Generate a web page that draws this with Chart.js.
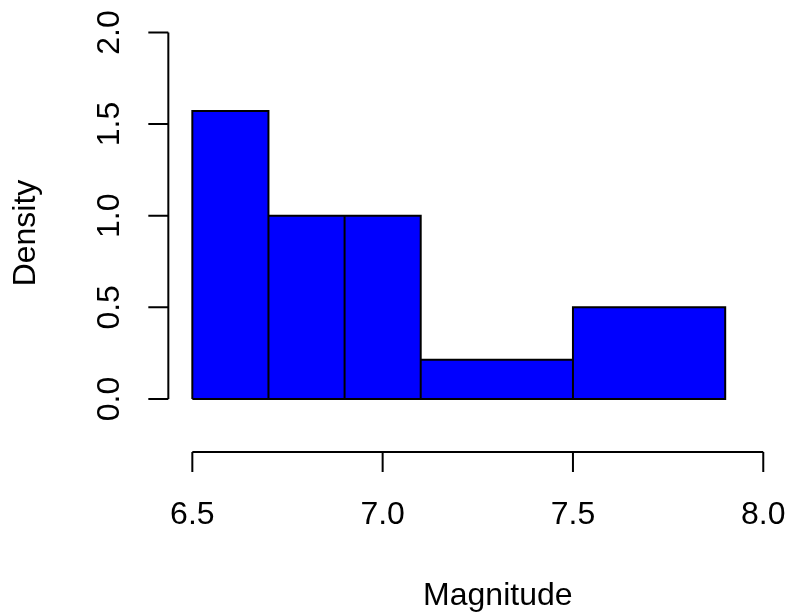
<!DOCTYPE html>
<html>
<head>
<meta charset="utf-8">
<title>Magnitude histogram</title>
<script src="https://cdn.jsdelivr.net/npm/chart.js"></script>
<style>
  html, body { margin: 0; padding: 0; background: #fff; }
  canvas { display: block; }
</style>
</head>
<body>
<canvas id="histChart" width="790" height="616"></canvas>
<script>
// bin edges and densities
const binEdges = [6.5, 6.7, 6.9, 7.1, 7.5, 7.9];
const densities = [1.571, 1.0, 1.0, 0.214, 0.5];
const xTicks = [6.5, 7.0, 7.5, 8.0];
const yTicks = [0, 0.5, 1.0, 1.5, 2.0];
const xTitle = 'Magnitude';
const yTitle = 'Density';

const FONT = '32px "Liberation Sans", Arial, sans-serif';

// step outline of the bars, x never goes backwards (needed by the filler)
function histSteps() {
    const pts = [{ x: binEdges[0], y: 0 }];
    densities.forEach((d, i) => {
        pts.push({ x: binEdges[i], y: d });
        pts.push({ x: binEdges[i + 1], y: d });
        pts.push({ x: binEdges[i + 1], y: 0 });
    });
    return pts;
}

// same outline plus the base line back to the start, for the black borders
function histBorders() {
    const pts = histSteps();
    pts.push({ x: binEdges[0], y: 0 });
    return pts;
}

// R style axes, detached from the bars
const baseAxes = {
    id: 'baseAxes',
    afterDraw(chart) {
        const { ctx, scales: { x, y } } = chart;
        const axisX = x.getPixelForValue(xTicks[0]) - 24;
        const axisY = y.getPixelForValue(0) + 53;
        const tick = 20;

        ctx.save();
        ctx.strokeStyle = '#000';
        ctx.fillStyle = '#000';
        ctx.lineWidth = 2;
        ctx.lineCap = 'butt';
        ctx.font = FONT;

        // y axis
        ctx.beginPath();
        ctx.moveTo(axisX, y.getPixelForValue(yTicks[0]));
        ctx.lineTo(axisX, y.getPixelForValue(yTicks[yTicks.length - 1]));
        yTicks.forEach(v => {
            const py = y.getPixelForValue(v);
            ctx.moveTo(axisX, py);
            ctx.lineTo(axisX - tick, py);
        });
        ctx.stroke();

        ctx.textAlign = 'center';
        ctx.textBaseline = 'alphabetic';
        yTicks.forEach(v => {
            const py = y.getPixelForValue(v);
            ctx.save();
            ctx.translate(119, py);
            ctx.rotate(-Math.PI / 2);
            ctx.fillText(v.toFixed(1), 0, 0);
            ctx.restore();
        });

        // x axis
        ctx.beginPath();
        ctx.moveTo(x.getPixelForValue(xTicks[0]), axisY);
        ctx.lineTo(x.getPixelForValue(xTicks[xTicks.length - 1]), axisY);
        xTicks.forEach(v => {
            const px = x.getPixelForValue(v);
            ctx.moveTo(px, axisY);
            ctx.lineTo(px, axisY + tick);
        });
        ctx.stroke();

        xTicks.forEach(v => {
            ctx.fillText(v.toFixed(1), x.getPixelForValue(v), 524);
        });

        // titles
        const midX = (x.getPixelForValue(xTicks[0]) + x.getPixelForValue(xTicks[xTicks.length - 1])) / 2;
        ctx.fillText(xTitle, midX + 20, 605);

        ctx.save();
        ctx.translate(35, 233);
        ctx.rotate(-Math.PI / 2);
        ctx.fillText(yTitle, 0, 0);
        ctx.restore();

        ctx.restore();
    }
};

new Chart(document.getElementById('histChart'), {
    type: 'line',
    data: {
        datasets: [
            {
                data: histSteps(),
                fill: 'origin',
                backgroundColor: '#0000ff',
                borderColor: 'rgba(0,0,0,0)',
                borderWidth: 0,
                tension: 0,
                pointRadius: 0,
                pointHoverRadius: 0,
                order: 2
            },
            {
                data: histBorders(),
                fill: false,
                borderColor: '#000000',
                borderWidth: 2,
                borderJoinStyle: 'miter',
                borderCapStyle: 'butt',
                tension: 0,
                pointRadius: 0,
                pointHoverRadius: 0,
                order: 1
            }
        ]
    },
    options: {
        responsive: false,
        animation: false,
        devicePixelRatio: 1,
        layout: {
            padding: { left: 173.3, right: 7.7, top: 25.1, bottom: 209.7 }
        },
        plugins: {
            legend: { display: false },
            tooltip: { enabled: false }
        },
        scales: {
            x: { type: 'linear', min: 6.45, max: 8.05, display: false },
            y: { type: 'linear', min: -0.04, max: 2.04, display: false }
        }
    },
    plugins: [baseAxes]
});
</script>
</body>
</html>
